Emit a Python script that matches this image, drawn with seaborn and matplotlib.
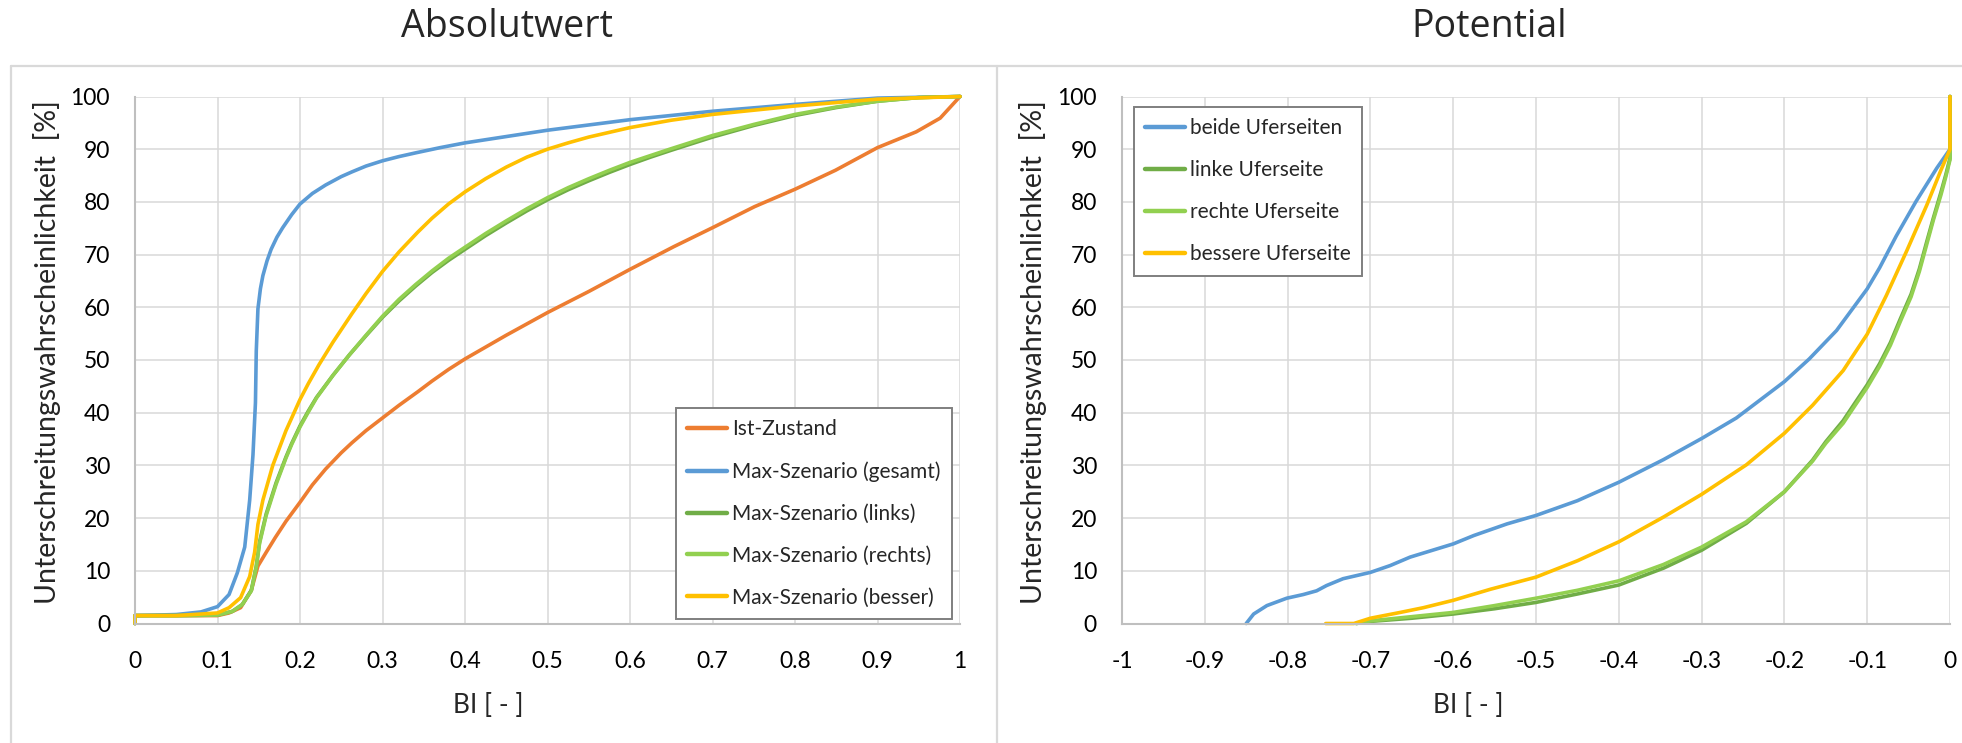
import pandas as pd
import matplotlib.pyplot as plt
import seaborn as sns
from matplotlib.lines import Line2D

# ---- data: Absolutwert (BI 0..1) ----
ist_bi = [0, 0, 0.05, 0.10, 0.114, 0.128, 0.141, 0.149, 0.159, 0.17, 0.183, 0.20, 0.215, 0.231, 0.25,
          0.263, 0.28, 0.30, 0.32, 0.343, 0.36, 0.38, 0.40, 0.45, 0.50, 0.55, 0.60, 0.653, 0.70,
          0.751, 0.80, 0.849, 0.90, 0.947, 0.976, 1.0]
ist_p = [0, 1.5, 1.5, 1.5, 2.0, 3.0, 6.3, 10.9, 13.5, 16.3, 19.4, 23.0, 26.3, 29.3, 32.4,
         34.3, 36.6, 39.0, 41.4, 44.0, 46.0, 48.2, 50.2, 54.7, 59.0, 63.0, 67.2, 71.5, 75.1,
         79.1, 82.4, 86.0, 90.3, 93.3, 95.9, 100]

ges_bi = [0, 0, 0.05, 0.08, 0.10, 0.114, 0.124, 0.133, 0.139, 0.143, 0.146, 0.147, 0.149, 0.152,
          0.155, 0.16, 0.165, 0.172, 0.179, 0.19, 0.20, 0.215, 0.231, 0.25, 0.263, 0.28, 0.30,
          0.32, 0.34, 0.37, 0.40, 0.45, 0.50, 0.60, 0.70, 0.80, 0.90, 1.0]
ges_p = [0, 1.5, 1.7, 2.2, 3.2, 5.5, 9.6, 14.5, 23.4, 32.0, 41.9, 51.7, 59.7, 63.5,
         66.0, 68.8, 71.0, 73.3, 75.1, 77.6, 79.6, 81.6, 83.2, 84.8, 85.7, 86.8, 87.8,
         88.6, 89.3, 90.3, 91.2, 92.4, 93.6, 95.6, 97.2, 98.5, 99.7, 100]

lin_bi = [0, 0, 0.05, 0.10, 0.118, 0.13, 0.141, 0.147, 0.151, 0.159, 0.171, 0.183, 0.19, 0.20, 0.21,
          0.22, 0.24, 0.26, 0.28, 0.30, 0.32, 0.34, 0.36, 0.38, 0.40, 0.425, 0.45, 0.475, 0.50,
          0.525, 0.55, 0.575, 0.60, 0.625, 0.65, 0.70, 0.75, 0.80, 0.85, 0.90, 0.95, 1.0]
lin_p = [0, 1.5, 1.5, 1.6, 2.3, 3.6, 6.3, 10.9, 15.5, 20.8, 26.7, 31.6, 34.2, 37.5, 40.3,
         42.9, 47.1, 51.0, 54.6, 58.1, 61.2, 64.0, 66.6, 68.9, 71.0, 73.6, 76.0, 78.3, 80.4,
         82.3, 84.0, 85.6, 87.1, 88.5, 89.8, 92.3, 94.5, 96.4, 97.9, 99.1, 99.8, 100]
rec_p = [0, 1.5, 1.5, 1.6, 2.3, 3.6, 6.2, 10.7, 15.2, 20.5, 26.4, 31.4, 34.0, 37.3, 40.1,
         42.8, 47.1, 51.0, 54.7, 58.3, 61.5, 64.3, 66.9, 69.3, 71.4, 74.0, 76.4, 78.7, 80.8,
         82.7, 84.4, 86.0, 87.5, 88.8, 90.1, 92.6, 94.7, 96.6, 98.0, 99.1, 99.8, 100]

bes_bi = [0, 0, 0.05, 0.10, 0.114, 0.128, 0.139, 0.145, 0.149, 0.155, 0.167, 0.183, 0.20, 0.21,
          0.223, 0.24, 0.263, 0.28, 0.30, 0.32, 0.343, 0.36, 0.38, 0.40, 0.425, 0.45, 0.475,
          0.50, 0.525, 0.55, 0.60, 0.65, 0.70, 0.80, 0.90, 1.0]
bes_p = [0, 1.5, 1.5, 2.0, 3.0, 4.9, 8.9, 13.5, 18.8, 23.4, 30.0, 36.6, 42.5, 45.5,
         49.1, 53.4, 58.8, 62.6, 66.8, 70.5, 74.3, 76.9, 79.6, 81.9, 84.4, 86.6, 88.5,
         90.0, 91.2, 92.3, 94.1, 95.5, 96.6, 98.2, 99.5, 100]

abs_names = ["Ist-Zustand", "Max-Szenario (gesamt)", "Max-Szenario (links)",
             "Max-Szenario (rechts)", "Max-Szenario (besser)"]
abs_colors = ["#ED7D31", "#5B9BD5", "#70AD47", "#92D050", "#FFC000"]

# ---- data: Potential (BI -1..0) ----
bei_bi = [-0.85, -0.841, -0.825, -0.801, -0.781, -0.765, -0.753, -0.733, -0.70, -0.676, -0.652,
          -0.60, -0.575, -0.535, -0.50, -0.45, -0.40, -0.346, -0.30, -0.258, -0.20, -0.17,
          -0.137, -0.10, -0.085, -0.065, -0.041, -0.016, 0, 0]
bei_p = [0, 1.8, 3.4, 4.8, 5.5, 6.2, 7.2, 8.5, 9.7, 11.0, 12.6,
         15.1, 16.7, 18.9, 20.5, 23.3, 26.8, 31.1, 35.1, 39.0, 45.9, 50.2,
         55.6, 63.5, 67.5, 73.5, 80.1, 86.4, 90, 100]

lk_bi = [-0.717, -0.70, -0.65, -0.60, -0.55, -0.50, -0.45, -0.40, -0.346, -0.30, -0.246,
         -0.20, -0.166, -0.15, -0.129, -0.115, -0.10, -0.085, -0.072, -0.06, -0.047, -0.037,
         -0.028, -0.02, -0.011, -0.005, 0, 0]
lk_p = [0, 0.4, 1.0, 1.8, 2.8, 4.0, 5.6, 7.3, 10.5, 13.9, 19.0,
        25.0, 31.0, 34.5, 38.5, 41.8, 45.3, 49.3, 53.3, 57.8, 62.5, 67.3,
        72.5, 77.0, 81.8, 85.2, 88.3, 100]
rk_p = [0, 0.5, 1.3, 2.1, 3.4, 4.8, 6.3, 8.1, 11.2, 14.5, 19.3,
        25.0, 30.8, 34.2, 38.0, 41.3, 44.8, 48.8, 52.8, 57.3, 62.0, 66.8,
        72.0, 76.6, 81.3, 84.8, 88.0, 100]

bk_bi = [-0.754, -0.72, -0.70, -0.664, -0.636, -0.60, -0.555, -0.50, -0.45, -0.40, -0.346,
         -0.30, -0.246, -0.20, -0.166, -0.129, -0.10, -0.077, -0.052, -0.028, -0.011, 0, 0]
bk_p = [0, 0, 1.0, 2.1, 3.0, 4.4, 6.5, 8.8, 11.9, 15.5, 20.2,
        24.5, 30.1, 36.1, 41.4, 48.0, 54.9, 62.2, 70.8, 79.4, 86.0, 90, 100]

pot_names = ["beide Uferseiten", "linke Uferseite", "rechte Uferseite", "bessere Uferseite"]
pot_colors = ["#5B9BD5", "#70AD47", "#92D050", "#FFC000"]

x_ticks_abs = [0, 0.1, 0.2, 0.3, 0.4, 0.5, 0.6, 0.7, 0.8, 0.9, 1]
x_labels_abs = ["0", "0.1", "0.2", "0.3", "0.4", "0.5", "0.6", "0.7", "0.8", "0.9", "1"]
x_ticks_pot = [-1, -0.9, -0.8, -0.7, -0.6, -0.5, -0.4, -0.3, -0.2, -0.1, 0]
x_labels_pot = ["-1", "-0.9", "-0.8", "-0.7", "-0.6", "-0.5", "-0.4", "-0.3", "-0.2", "-0.1", "0"]
y_ticks = list(range(0, 101, 10))


def long_df(names, xs, ys):
    parts = [pd.DataFrame({"BI": x, "P": y, "Serie": n}) for n, x, y in zip(names, xs, ys)]
    return pd.concat(parts, ignore_index=True)


df_abs = long_df(abs_names, [ist_bi, ges_bi, lin_bi, lin_bi, bes_bi],
                 [ist_p, ges_p, lin_p, rec_p, bes_p])
df_pot = long_df(pot_names, [bei_bi, lk_bi, lk_bi, bk_bi], [bei_p, lk_p, rk_p, bk_p])

sns.set_theme(style="white")
plt.rcParams["font.family"] = ["Lato", "DejaVu Sans"]

W, H = 1962, 743
fig = plt.figure(figsize=(W / 100, H / 100), dpi=100)
ax1 = fig.add_axes([135 / W, 1 - 623.5 / H, 825 / W, 527 / H])
ax2 = fig.add_axes([1122 / W, 1 - 623.5 / H, 828 / W, 527 / H])

LW = 2.6
sns.lineplot(data=df_abs, x="BI", y="P", hue="Serie", hue_order=abs_names,
             palette=dict(zip(abs_names, abs_colors)), estimator=None, sort=False,
             linewidth=LW, legend=False, clip_on=False, ax=ax1)
sns.lineplot(data=df_pot, x="BI", y="P", hue="Serie", hue_order=pot_names,
             palette=dict(zip(pot_names, pot_colors)), estimator=None, sort=False,
             linewidth=LW, legend=False, clip_on=False, ax=ax2)

setups = [(ax1, (0, 1), x_ticks_abs, x_labels_abs, abs_names, abs_colors, (676, 408), 0.428),
          (ax2, (-1, 0), x_ticks_pot, x_labels_pot, pot_names, pot_colors, (1134, 107), 0.418)]
for ax, xl, xt, xtl, names, cols, leg_xy, xlab_x in setups:
    ax.set_xlim(*xl)
    ax.set_ylim(0, 100)
    ax.set_xticks(xt)
    ax.set_xticklabels(xtl)
    ax.set_yticks(y_ticks)
    ax.grid(True, color="#d9d9d9", linewidth=1.1)
    ax.set_axisbelow(True)
    for s in ["top", "right"]:
        ax.spines[s].set_visible(False)
    for s in ["left", "bottom"]:
        ax.spines[s].set_color("#bfbfbf")
        ax.spines[s].set_linewidth(1.5)
    ax.tick_params(axis="both", length=0, labelsize=16.5, colors="#000000")
    ax.tick_params(axis="x", pad=20)
    ax.tick_params(axis="y", pad=18)
    ax.set_xlabel("BI [ - ]", fontsize=19)
    ax.set_ylabel("Unterschreitungswahrscheinlichkeit  [%]", fontsize=20.5)
    ax.xaxis.set_label_coords(xlab_x, -0.155)
    ax.xaxis.label.set_va("center")
    ax.yaxis.set_label_coords(-0.107, 0.515)
    ax.yaxis.label.set_va("center")
    handles = [Line2D([], [], color=c, linewidth=LW + 0.6) for c in cols]
    ax.legend(handles, names, loc="upper left",
              bbox_to_anchor=(leg_xy[0] / W, 1 - leg_xy[1] / H), bbox_transform=fig.transFigure,
              fontsize=15, frameon=True, fancybox=False, edgecolor="#7f7f7f",
              framealpha=1, handlelength=1.9, handletextpad=0.25, labelspacing=1.05,
              borderpad=0.55, borderaxespad=0)
    ax.get_legend().get_frame().set_linewidth(1.4)

# chart area frames
fc = "#d9d9d9"
fig.add_artist(Line2D([11 / W, 1], [1 - 66 / H, 1 - 66 / H], color=fc, lw=1.6))
fig.add_artist(Line2D([11 / W, 11 / W], [0, 1 - 66 / H], color=fc, lw=1.6))
fig.add_artist(Line2D([997 / W, 997 / W], [0, 1 - 66 / H], color=fc, lw=1.6))

fig.text(507 / W, 1 - 27 / H, "Absolutwert", ha="center", va="center", fontsize=27,
         family=["Open Sans", "DejaVu Sans"])
fig.text(1489 / W, 1 - 27 / H, "Potential", ha="center", va="center", fontsize=27,
         family=["Open Sans", "DejaVu Sans"])

fig.savefig("out.png", dpi=100, facecolor="white")
